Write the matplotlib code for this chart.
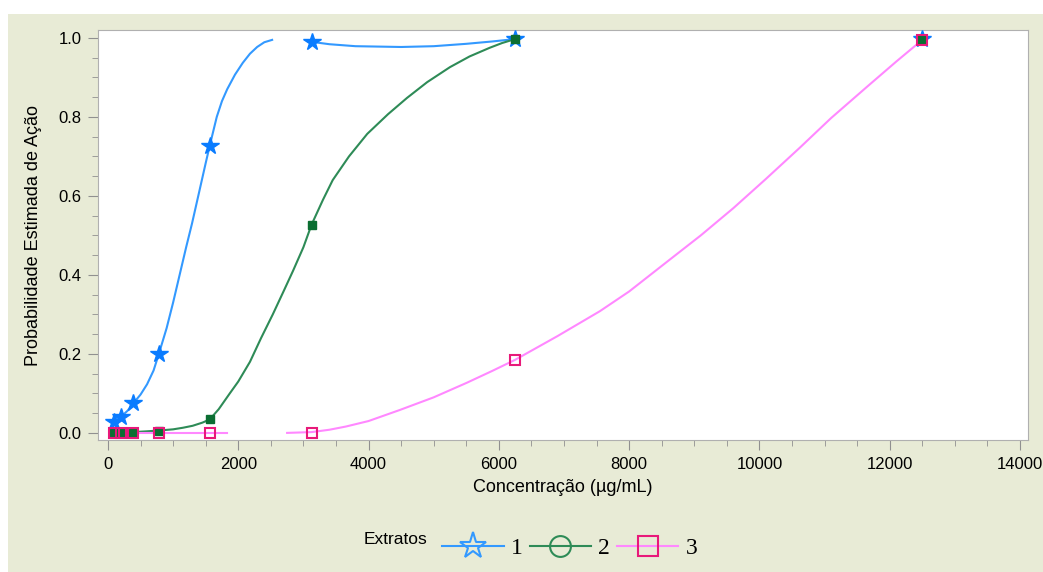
import matplotlib
matplotlib.use("Agg")
import matplotlib.pyplot as plt
from matplotlib.lines import Line2D
from matplotlib.patches import Rectangle
from matplotlib.ticker import MultipleLocator, FormatStrFormatter

# concentrations tested (ug/mL)
conc = [98, 195, 390, 781, 1562, 3125, 6250, 12500]

# observed points per extract
obs1 = [0.027, 0.04, 0.075, 0.2, 0.727, 0.99, 0.997, 0.997]
obs2 = [0.0, 0.0, 0.0, 0.005, 0.034, 0.527, 0.997, 0.997]
obs3 = [0.0, 0.0, 0.0, 0.0, 0.0, 0.0, 0.185, 0.995]

# fitted curves (split where the original breaks)
fit1a_x = [98, 195, 300, 390, 500, 600, 700, 781, 900, 1000, 1100, 1200, 1290, 1400, 1500,
           1562, 1670, 1750, 1830, 1950, 2070, 2180, 2290, 2400, 2520]
fit1a_y = [0.027, 0.04, 0.056, 0.075, 0.097, 0.123, 0.158, 0.2, 0.265, 0.33, 0.4, 0.47, 0.53,
           0.61, 0.683, 0.727, 0.8, 0.84, 0.87, 0.907, 0.937, 0.96, 0.977, 0.989, 0.995]
fit1b_x = [3125, 3400, 3800, 4500, 5000, 5500, 5900, 6250]
fit1b_y = [0.99, 0.984, 0.979, 0.977, 0.979, 0.985, 0.991, 0.997]

fit2_x = [98, 390, 600, 781, 1000, 1150, 1300, 1450, 1562, 1700, 1870, 2000, 2180, 2350, 2530,
          2700, 2840, 3000, 3125, 3300, 3450, 3700, 3980, 4300, 4590, 4900, 5250, 5550, 5860,
          6050, 6250]
fit2_y = [0.0, 0.002, 0.004, 0.006, 0.009, 0.013, 0.018, 0.026, 0.034, 0.06, 0.10, 0.13, 0.18,
          0.24, 0.30, 0.36, 0.41, 0.47, 0.527, 0.59, 0.64, 0.70, 0.757, 0.807, 0.848, 0.888,
          0.926, 0.953, 0.975, 0.987, 0.997]

fit3a_x = [98, 1830]
fit3a_y = [0.0, 0.0]
fit3b_x = [2750, 3125, 3400, 3650, 4000, 4480, 5000, 5510, 5900, 6250, 6900, 7550, 8000, 8580,
           9100, 9600, 10100, 10620, 11100, 11650, 12100, 12500]
fit3b_y = [0.0, 0.002, 0.008, 0.016, 0.03, 0.058, 0.09, 0.127, 0.157, 0.185, 0.245, 0.308,
           0.358, 0.433, 0.5, 0.569, 0.643, 0.722, 0.797, 0.876, 0.94, 0.995]

labels = ["1", "2", "3"]

blue = "#3399ff"
blue_m = "#0a7cff"
green = "#2e8b57"
green_m = "#0b6e32"
pink = "#ff88ff"
pink_m = "#e8197a"
beige = "#e8ebd6"

plt.rcParams['font.family'] = ['Liberation Sans', 'DejaVu Sans']

fig = plt.figure(figsize=(10.43, 5.72), dpi=100)
fig.patch.set_facecolor("white")
fig.patches.append(Rectangle((8 / 1043, 0), 1, 1 - 14 / 572, transform=fig.transFigure,
                             facecolor=beige, edgecolor="none", zorder=-10))

ax = fig.add_axes([98 / 1043, 1 - 440 / 572, 930 / 1043, 410 / 572])
ax.set_facecolor("white")

# curves
ax.plot(fit1a_x, fit1a_y, color=blue, lw=1.5)
ax.plot(fit1b_x, fit1b_y, color=blue, lw=1.5)
ax.plot(fit2_x, fit2_y, color=green, lw=1.5)
ax.plot(fit3a_x, fit3a_y, color=pink, lw=1.5)
ax.plot(fit3b_x, fit3b_y, color=pink, lw=1.5)

# observed points
ax.plot(conc, obs1, ls="none", marker="*", ms=13, color=blue_m, mec=blue_m, zorder=3)
ax.plot(conc, obs2, ls="none", marker="s", ms=6, color=green_m, mec=green_m, zorder=4)
ax.plot(conc, obs3, ls="none", marker="s", ms=7, mfc="none", mec=pink_m, mew=1.5, zorder=5)

ax.set_xlim(-153, 14123)
ax.set_ylim(-0.018, 1.02)
ax.xaxis.set_major_locator(MultipleLocator(2000))
ax.xaxis.set_minor_locator(MultipleLocator(500))
ax.yaxis.set_major_locator(MultipleLocator(0.2))
ax.yaxis.set_minor_locator(MultipleLocator(0.05))
ax.yaxis.set_major_formatter(FormatStrFormatter("%.1f"))

for s in ax.spines.values():
    s.set_color("#b0b0b0")
ax.tick_params(which="major", length=7, color="#909090", labelsize=12, pad=5)
ax.tick_params(which="minor", length=4, color="#909090")

ax.set_xlabel("Concentração (µg/mL)", fontsize=13, labelpad=5)
ax.set_ylabel("Probabilidade Estimada de Ação", fontsize=13, labelpad=12)

# legend along the bottom
fig.text(364 / 1043, 1 - 540 / 572, "Extratos", fontsize=12.5, va="center", ha="left")
handles = [
    Line2D([], [], color=blue, lw=1.5, marker="*", ms=20, mfc="none", mec=blue, mew=1.5),
    Line2D([], [], color=green, lw=1.5, marker="o", ms=15, mfc="none", mec=green, mew=1.5),
    Line2D([], [], color=pink, lw=1.5, marker="s", ms=15, mfc="none", mec=pink_m, mew=1.5),
]
fig.legend(handles, labels, loc="center left", bbox_to_anchor=(421 / 1043, 1 - 548 / 572),
           ncol=3, frameon=False, handlelength=2.6, handletextpad=0.3, columnspacing=0.3,
           prop={"family": "Liberation Serif", "size": 17})

fig.savefig("out.png", dpi=100)
